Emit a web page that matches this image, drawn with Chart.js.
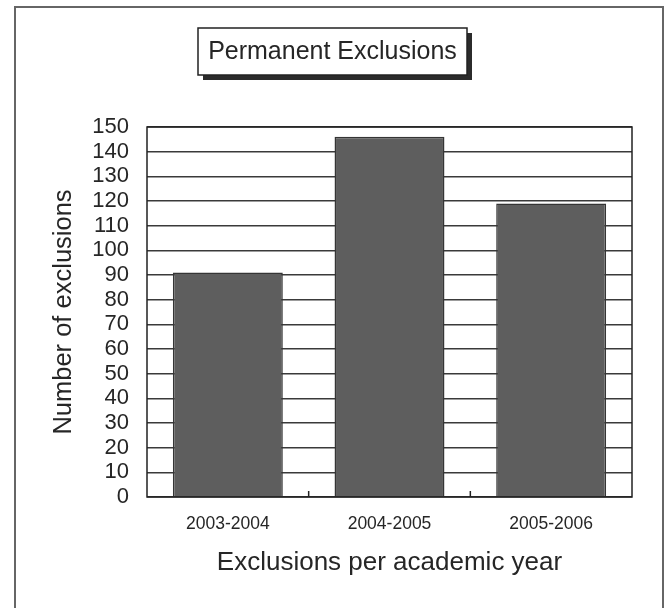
<!DOCTYPE html>
<html>
<head>
<meta charset="utf-8">
<title>Permanent Exclusions</title>
<script src="https://cdn.jsdelivr.net/npm/chart.js@4/dist/chart.umd.min.js"></script>
<style>
    html, body { margin: 0; padding: 0; background: #ffffff; }
    canvas { display: block; }
</style>
</head>
<body>
<canvas id="exclusions-chart" width="666" height="608"></canvas>
<script>
const chartTitle = 'Permanent Exclusions';
const academicYears = ['2003-2004', '2004-2005', '2005-2006'];
const exclusionCounts = [91, 146, 119];
const yTickMin = 0;
const yTickMax = 150;
const yTickStep = 10;

const fontFamily = '"Liberation Sans", Arial, sans-serif';
const inkColor = '#262626';

// frame round the whole picture and the boxed title with its shadow
const framePlugin = {
    id: 'frame',
    beforeDraw: (chart) => {
        const ctx = chart.ctx;
        ctx.save();
        ctx.fillStyle = '#ffffff';
        ctx.fillRect(0, 0, chart.width, chart.height);
        ctx.restore();
    },
    afterDraw: (chart) => {
        const ctx = chart.ctx;
        const area = chart.chartArea;
        const xScale = chart.scales.x;
        ctx.save();

        // plot border
        ctx.strokeStyle = '#222222';
        ctx.lineWidth = 1.5;
        ctx.strokeRect(area.left, area.top, area.right - area.left, area.bottom - area.top);

        // short ticks between categories
        for (let i = 0; i < academicYears.length - 1; i++) {
            const x = xScale.getPixelForValue(i + 0.5);
            ctx.beginPath();
            ctx.moveTo(x, area.bottom);
            ctx.lineTo(x, area.bottom - 6);
            ctx.stroke();
        }

        // outer frame
        ctx.strokeStyle = '#666666';
        ctx.lineWidth = 2;
        ctx.strokeRect(15, 7, 648, 620);

        // title box with shadow
        const box = { x: 198, y: 28, w: 269, h: 47 };
        ctx.fillStyle = '#2b2b2b';
        ctx.fillRect(box.x + 5, box.y + 5, box.w, box.h);
        ctx.fillStyle = '#ffffff';
        ctx.fillRect(box.x, box.y, box.w, box.h);
        ctx.strokeStyle = '#222222';
        ctx.lineWidth = 1.5;
        ctx.strokeRect(box.x, box.y, box.w, box.h);

        ctx.fillStyle = inkColor;
        ctx.font = '25px ' + fontFamily;
        ctx.textAlign = 'center';
        ctx.textBaseline = 'middle';
        ctx.fillText(chartTitle, box.x + box.w / 2, box.y + box.h / 2 + 1);
        ctx.restore();
    }
};

const setupAndInitChart = () => {
    const exclusionsChart = new Chart(document.querySelector('#exclusions-chart'), {
        type: 'bar',
        data: {
            labels: academicYears,
            datasets: [
                {
                    label: chartTitle,
                    data: exclusionCounts,
                    backgroundColor: '#5e5e5e',
                    borderColor: '#353535',
                    borderWidth: 1.5,
                    barPercentage: 1,
                    categoryPercentage: 0.68
                }
            ]
        },
        options: {
            responsive: false,
            animation: false,
            devicePixelRatio: 1,
            layout: {
                padding: { top: 127, right: 34, left: 0, bottom: 0 }
            },
            plugins: {
                legend: { display: false },
                tooltip: { enabled: false }
            },
            scales: {
                x: {
                    afterFit: (scale) => { scale.height = 111; },
                    grid: { display: false },
                    border: { display: false },
                    ticks: {
                        color: inkColor,
                        padding: 9,
                        font: { family: fontFamily, size: 17.5 }
                    },
                    title: {
                        display: true,
                        text: 'Exclusions per academic year',
                        color: inkColor,
                        font: { family: fontFamily, size: 26 },
                        padding: { top: 0, bottom: 30 }
                    }
                },
                y: {
                    min: yTickMin,
                    max: yTickMax,
                    afterFit: (scale) => { scale.width = 147; },
                    grid: {
                        color: '#3a3a3a',
                        lineWidth: 1.5,
                        drawTicks: false
                    },
                    border: { display: false },
                    ticks: {
                        stepSize: yTickStep,
                        autoSkip: false,
                        color: inkColor,
                        padding: 18,
                        font: { family: fontFamily, size: 22 }
                    },
                    title: {
                        display: true,
                        text: 'Number of exclusions',
                        color: inkColor,
                        font: { family: fontFamily, size: 25.5 },
                        padding: { top: 49, bottom: 0 }
                    }
                }
            }
        },
        plugins: [framePlugin]
    });
};

setupAndInitChart();
</script>
</body>
</html>
